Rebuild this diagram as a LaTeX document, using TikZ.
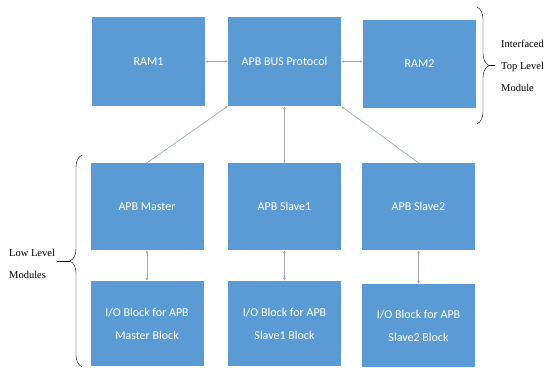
\documentclass[tikz,border=0pt]{standalone}
\usepackage{fontspec}
\setmainfont{Liberation Serif}
\newfontfamily\boxfont{Carlito}
\usetikzlibrary{arrows.meta,decorations.pathreplacing}

\definecolor{modblue}{RGB}{91,155,213}
\definecolor{linkgray}{RGB}{160,172,190}

\tikzset{
  module/.style={fill=modblue, draw=none, minimum width=113pt, minimum height=87pt,
    inner sep=2pt, align=center, text=white, font=\boxfont\fontsize{12}{23}\selectfont},
  link/.style={draw=linkgray, line width=0.7pt},
  tip/.style={-{Latex[length=3pt,width=3pt]}},
  tips/.style={{Latex[length=3pt,width=3pt]}-{Latex[length=3pt,width=3pt]}},
  bracetext/.style={align=left, inner sep=0pt, font=\fontsize{10.5}{22}\selectfont}
}

\begin{document}
\begin{tikzpicture}[x=1pt, y=-1pt]
    \useasboundingbox (0,0) rectangle (545,367);

    % top level
    \node[module, minimum height=89pt] (ram1) at (148.5, 61.5) {RAM1};
    \node[module, minimum height=89pt] (bus) at (284.5, 61.5) {APB BUS Protocol};
    \node[module, minimum height=88pt] (ram2) at (419.5, 64) {RAM2};

    % low level
    \node[module] (master) at (147, 206.5) {APB Master};
    \node[module] (slave1) at (284.5, 206.5) {APB Slave1};
    \node[module] (slave2) at (418.5, 206.5) {APB Slave2};

    \node[module, minimum height=85pt] (iomaster) at (147, 323.5) {I/O Block for APB\\Master Block};
    \node[module, minimum height=85pt] (ioslave1) at (284.5, 323.5) {I/O Block for APB\\Slave1 Block};
    \node[module, minimum height=83pt] (ioslave2) at (418.5, 325.5) {I/O Block for APB\\Slave2 Block};

    % connections
    \draw[link, tips] (ram1.east) -- (bus.west);
    \draw[link, tips] (bus.east) -- (ram2.west |- bus.east);
    \draw[link, tip] (master.north) -- (bus.south west);
    \draw[link, tip] (slave1.north) -- (bus.south);
    \draw[link, tip] (slave2.north) -- (bus.south east);
    \draw[link, tips] (master.south) -- (iomaster.north);
    \draw[link, tips] (slave1.south) -- (ioslave1.north);
    \draw[link, tips] (slave2.south) -- (ioslave2.north);

    % braces
    \coordinate (rtop) at (477, 7);
    \coordinate (rbot) at (477, 124);
    \draw[thin, decorate, decoration={brace, amplitude=12pt}] (rtop) -- (rbot);
    \draw[thin] (489, 65.5) -- (495, 65.5);
    \node[bracetext, anchor=west] (toplabel) at (501, 66) {Interfaced\\Top Level\\Module};

    \coordinate (lbot) at (82, 367);
    \coordinate (ltop) at (82, 155);
    \draw[thin, decorate, decoration={brace, amplitude=12pt}] (lbot) -- (ltop);
    \draw[thin] (70, 261) -- (57, 261);
    \node[bracetext, anchor=west] (lowlabel) at (9, 264) {Low Level\\Modules};
\end{tikzpicture}
\end{document}
